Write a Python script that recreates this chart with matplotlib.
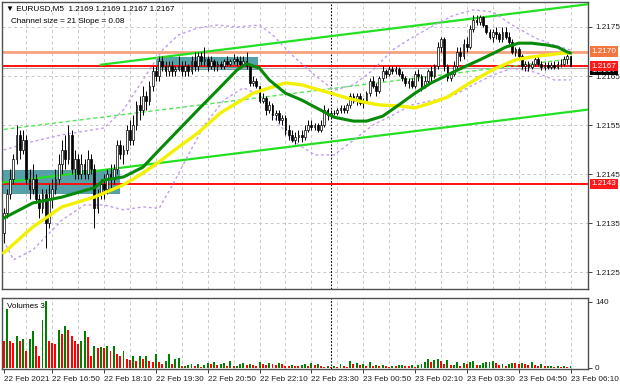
import matplotlib
matplotlib.use("Agg")
import matplotlib.pyplot as plt
import matplotlib.transforms as mtransforms
import numpy as np

# ---------------- data (prices in pips above 1.2100) ----------------
BASE = 1.2100
opens = [33,37,41,44,48,53,50,52,44,42,44,40,38,41,35,40,42,44,47,50,48,53,46,48,45,47,45,48,46,38,
         41,43,42,45,44,46,51,49,50,54,52,55,59,58,61,60,63,66,65,68,67,66,67,66,66.5,67,66,67,66,68,
         67,69,68,68.5,67,68,67,67.5,67,68,67.5,68,68.5,68,67.5,68,67,63.5,64,63,60,60.5,58,59,57,57.5,
         56,56.5,54,53,52,52.5,53,52.5,54,55,54.5,55,54,55,58,57,57.5,57.5,58,58.5,58,59,61,60,61,59.5,
         60,61.5,64,63,62,64.5,66,65.5,66.5,66,66.5,65.5,64.5,63.5,64,63,65.5,65,63,64,66,65,67,71,72.5,
         67,64.5,65.5,67,70,69,71.5,71,74.5,76.5,76,77,75.5,74,73,74,73.5,72.5,74,73,72,70,70.5,69,67,
         67.5,66.8,67.5,68.5,67.5,66.8,67.2,66.9,67.3,66.8,67.5,67.5,68.5,69]
highs = [38,42,46,49,55,54,54,53,46,47,45,41,42,42,43,44,46,49,52,53,55,54,50,49,49,48,50,49,47,42,
         44,45,46,47,47,52,52,51,55,56,57,60,61,63,62,64,67,67,69,69,68,68,68,67,69,68,68,67.5,69,70,
         70,70,71,69,69,68.5,68,68,68.5,69,68.5,69.5,69,69,69,70,67.5,65,64.5,63,61.5,61,60,59.5,58,58,
         57,57,55,54,53.5,54,54,55,56,56,55.5,55.5,56,59,58.5,58,58,58.5,59,59,59.5,61.5,61.5,61.5,61.5,60.5,
         62,64.5,65,63.5,65,67,66.5,67,67,67,66.8,66,65,64.5,64.5,66,66.5,65.5,65,66.5,67,67.5,72,73,
         73,67.5,66,68,71,71,72.5,73,75.5,77.5,77.5,77.5,77.3,75.5,74.5,74.5,75,74,75,75,74,72.5,71,71,69.5,
         68,68,68,69,69,68,67.8,67.8,67.8,68,68,68.5,69,69.5,69]
lows = [31,36,40,43,47,48,49,43,40,41,39,36,37,30,34,38,41,43,45,46,47,45,44,44,44,44,44,45,34,37,
        40,40,41,42,43,45,48,47,49,51,51,54,56,57,58,59,62,64,64,66,65,65,65,65,66,65,65,65,65.5,66,
        66,67,67,66,66.5,66,66,66.5,66.5,67,67,67.5,67,67,67,66.5,63,63,62.5,59.5,59.5,57,57.5,56,56,55.5,
        55,53,52,51.5,51.2,51.5,51.5,52,53.5,54,54,53.5,53.5,54.5,56,56.5,57,57,57.5,57.5,57.5,58.5,59.5,59,
        59,58.5,59.5,61,62.5,61,61.5,64,64.5,65,65.5,65.5,65,64,63,62.5,62.5,62.5,64,62,62.5,63.5,64,64.5,66.5,
        70,66,64,64,65,66.5,68,68.5,70,70.5,74,75.5,75.5,75,73.5,72.5,72,72.5,72,72,72.5,71.5,69.5,69,68.5,
        66.5,66,66,66.5,67,67,66.3,66.3,66.5,66.5,66.4,66.5,66.8,67,67.5,67]
closes = [37,41,44,48,53,50,52,44,42,44,40,38,41,35,40,42,44,47,50,48,53,46,48,45,47,45,48,46,38,41,
          43,42,45,44,46,51,49,50,54,52,55,59,58,61,60,63,66,65,68,67,66,67,66,66.5,67,66,67,66,68,67,
          69,68,68.5,67,68,67,67.5,67,68,67.5,68,68.5,68,67.5,68,67,63.5,64,63,60,60.5,58,59,57,57.5,56,
          56.5,54,53,52,52.5,53,52.5,54,55,54.5,55,54,55,58,57,57.5,57.5,58,58.5,58,59,61,60,61,59.5,60,
          61.5,64,63,62,64.5,66,65.5,66.5,66,66.5,65.5,64.5,63.5,64,63,65.5,65,63,64,66,65,67,71,72.5,67,
          64.5,65.5,67,70,69,71.5,71,74.5,76.5,76,77,75.5,74,73,74,73.5,72.5,74,73,72,70,70.5,69,67,67.5,
          66.8,67.5,68.5,67.5,66.8,67.2,66.9,67.3,66.8,67.5,67.5,68.5,69,67]
volumes = [57,124,57,53,67,57,60,35,60,78,46,25,102,141,57,53,50,79,71,88,79,67,57,50,57,78,64,25,46,42,
           44,42,46,35,46,28,25,35,18,16,25,14,25,18,25,14,11,28,11,7,14,28,7,18,21,3,
           3,5,7,4,8,2,6,9,7,11,5,8,10,4,13,
           3,4,7,9,5,8,6,4,12,8,6,10,7,5,9,
           7,4,3,6,4,3,5,7,4,9,6,8,3,2,4,
           2,3,2,8,4,2,14,7,9,5,8,4,12,3,6,
           4,5,3,2,4,3,5,6,4,3,5,2,6,7,12,
           18,12,17,19,14,8,17,5,6,12,4,9,7,11,13,
           6,6,10,11,12,14,9,6,7,3,7,10,9,8,10,
           7,5,11,5,4,8,3,4,4,2,3,2,3,2,3]

# moving averages (bar index, pips)
ma_green_idx = [0,9,18,28,31,37,43,48,54,60,67,72,75,79,82,87,92,96,102,108,112,117,122,127,132,137,142,147,152,155,159,163,168,171,174,175]
ma_green_val = [36.0,39.1,40.3,42.2,43.8,44.4,46.4,49.9,54.0,58.1,62.8,66.2,67.5,66.6,64.2,61.5,60.1,58.7,56.6,55.8,55.8,56.8,59.1,61.5,63.6,65.2,66.8,68.3,69.9,70.9,71.7,71.7,71.3,70.9,69.9,69.7]
ma_yellow_idx = [0,9,18,28,37,43,48,54,60,67,77,87,92,101,106,111,116,122,127,132,137,142,147,152,158,163,168,173,175]
ma_yellow_val = [28.9,34.2,38.3,40.3,42.8,45.2,47.5,50.5,53.4,57.5,61.5,63.6,63.2,61.5,60.5,59.7,59.1,58.9,58.5,59.5,60.7,62.8,64.8,66.6,68.3,68.9,69.3,69.7,69.7]

# bollinger bands (bar index, pips)
bb_up_idx = [0,8,18,31,37,43,49,54,60,66,72,79,83,89,96,102,108,114,120,126,133,139,145,151,157,164,170,175]
bb_up_val = [49.9,51.5,53.0,54.4,58.1,64.2,70.3,73.4,74.8,75.4,75.0,75.4,73.4,69.3,65.2,62.1,63.2,66.2,70.3,72.8,75.4,77.4,78.5,78.1,75.4,72.8,71.3,70.3]
bb_lo_idx = [0,3,9,18,25,31,37,43,48,53,57,62,68,74,79,83,89,96,102,108,114,120,126,133,139,145,151,157,164,170,175]
bb_lo_val = [31.5,27.5,29.5,35.6,38.7,38.7,37.7,38.3,38.0,43.8,48.9,55.0,60.1,62.6,61.1,57.0,51.9,48.9,48.9,51.9,55.0,57.0,59.1,60.1,61.1,63.2,65.2,66.6,65.8,64.2,64.2]

# regression channel (bar index, pips)
chan_mid_idx = [0, 175]
chan_mid_val = [54.1, 68.5]
chan_up_idx = [30, 181]
chan_up_val = [67.3, 79.7]
chan_lo_idx = [0, 181]
chan_lo_val = [43.3, 58.2]

# levels and zones
level_orange = 1.2170
level_red_hi = 1.2167
level_red_lo = 1.2143
level_bid = 1.21666
zones = [(0, 36.5, 40.9, 45.8), (47.5, 79, 66.2, 68.9)]  # (start idx, end idx, low pips, high pips)

time_labels = ["22 Feb 2021", "22 Feb 16:50", "22 Feb 18:10", "22 Feb 19:30", "22 Feb 20:50",
               "22 Feb 22:10", "22 Feb 23:30", "23 Feb 00:50", "23 Feb 02:10", "23 Feb 03:30",
               "23 Feb 04:50", "23 Feb 06:10"]
time_label_idx = [0, 15, 31, 47, 63, 79, 95, 111, 127, 143, 159, 175]
day_sep_idx = 101
price_ticks = [1.2125, 1.2135, 1.2145, 1.2155, 1.2165, 1.2175]

# ---------------- helpers ----------------
def P(v):
    return BASE + np.asarray(v, dtype=float) / 10000.0

O, H, L, C = P(opens), P(highs), P(lows), P(closes)
N = len(C)
idx = np.arange(N)

W, Hpx = 620, 388
fig = plt.figure(figsize=(W / 100, Hpx / 100), dpi=100)
fig.patch.set_facecolor("white")
FONT = ["Liberation Sans", "DejaVu Sans"]
FS = 5.9

ax = fig.add_axes([2 / W, 1 - 289 / Hpx, 586 / W, 287 / Hpx])
axv = fig.add_axes([2 / W, 1 - 369 / Hpx, 586 / W, 71 / Hpx])

XL = (-0.5, 180.4)
for a in (ax, axv):
    a.set_xlim(*XL)
    a.set_facecolor("white")
    for s in a.spines.values():
        s.set_color("#505050")
        s.set_linewidth(1.0)

ax.set_ylim(P(21.55), P(80.1))

# grid
grid_x = np.arange(7, 181, 8)
for a in (ax, axv):
    for gx in grid_x:
        a.axvline(gx, color="#c8c8c8", lw=0.7, ls=(0, (3, 3)), zorder=0)
for pt in price_ticks:
    ax.axhline(pt, color="#c8c8c8", lw=0.7, ls=(0, (3, 3)), zorder=0)
for a in (ax, axv):
    a.axvline(day_sep_idx, color="black", lw=0.8, ls=(0, (1.5, 1.5)), zorder=1)

# zones
for (x0, x1, lo, hi) in zones:
    ax.add_patch(plt.Rectangle((x0 - 0.5, P(lo)), x1 - x0, P(hi) - P(lo),
                               facecolor="#4d9ca3", edgecolor="none", alpha=0.95, zorder=1))

# levels
ax.axhline(level_bid, color="#b0b0b0", lw=0.8, zorder=2)
ax.axhline(level_orange, color="#f5a27e", lw=2.0, zorder=2)
ax.axhline(level_red_hi, color="#ff1010", lw=1.4, zorder=2)
ax.axhline(level_red_lo, color="#ff1010", lw=1.4, zorder=2)

# channel
ax.plot(chan_up_idx, P(chan_up_val), color="#22e022", lw=1.6, zorder=3)
ax.plot(chan_lo_idx, P(chan_lo_val), color="#22e022", lw=1.6, zorder=3)
ax.plot(chan_mid_idx, P(chan_mid_val), color="#55e855", lw=1.0, ls=(0, (3, 2)), zorder=3)

# bollinger
ax.plot(bb_up_idx, P(bb_up_val), color="#c39ceb", lw=1.0, ls=(0, (2, 2)), zorder=3)
ax.plot(bb_lo_idx, P(bb_lo_val), color="#c39ceb", lw=1.0, ls=(0, (2, 2)), zorder=3)

# candles
up = C >= O
ax.vlines(idx, L, H, color="black", lw=0.7, zorder=4)
bw = 0.55
body_lo = np.minimum(O, C)
body_h = np.maximum(np.abs(C - O), 0.000004)
ax.bar(idx[up], body_h[up], bottom=body_lo[up], width=bw, facecolor="white",
       edgecolor="black", linewidth=0.5, zorder=5)
ax.bar(idx[~up], body_h[~up], bottom=body_lo[~up], width=bw, facecolor="black",
       edgecolor="black", linewidth=0.5, zorder=5)

# moving averages
ax.plot(ma_yellow_idx, P(ma_yellow_val), color="#f2f200", lw=2.4, zorder=6, solid_capstyle="round")
ax.plot(ma_green_idx, P(ma_green_val), color="#078a07", lw=2.2, zorder=6, solid_capstyle="round")

# price axis
ax.yaxis.tick_right()
ax.set_yticks(price_ticks)
ax.set_yticklabels([f"{t:.4f}" for t in price_ticks], fontsize=FS, family=FONT)
ax.tick_params(axis="y", length=3, width=0.6, pad=2, colors="#202020")
ax.set_xticks([])

trans = mtransforms.blended_transform_factory(ax.transAxes, ax.transData)
def tag(price, text, fc, z):
    ax.text(1.006, price, text, transform=trans, fontsize=FS, family=FONT, color="white",
            va="center", ha="left", zorder=z, clip_on=False,
            bbox=dict(boxstyle="square,pad=0.2", facecolor=fc, edgecolor="none"))
tag(level_bid - 0.00004, "1.2167", "black", 7)
tag(level_orange, "1.2170", "#f37640", 8)
tag(level_red_hi, "1.2167", "#ff1a1a", 8)
tag(level_red_lo, "1.2143", "#ff1a1a", 8)

# title
ax.text(0.006, 0.988, "\u25bc EURUSD,M5  1.2169 1.2169 1.2167 1.2167", transform=ax.transAxes,
        fontsize=FS, family=FONT, va="top", ha="left", zorder=9)
ax.text(0.016, 0.945, "Channel size = 21 Slope = 0.08", transform=ax.transAxes,
        fontsize=FS, family=FONT, va="top", ha="left", zorder=9)

# volumes
vol = np.asarray(volumes, dtype=float)
vcol = ["#008000" if (i == 0 or vol[i] >= vol[i - 1]) else "#ff0000" for i in range(N)]
vcol[0] = "#ff0000"
axv.bar(idx, vol, width=0.6, color=vcol, zorder=3)
axv.set_ylim(-3, 148)
axv.yaxis.tick_right()
axv.set_yticks([0, 140])
axv.set_yticklabels(["0", "140"], fontsize=FS, family=FONT)
axv.tick_params(axis="y", length=3, width=0.6, pad=2, colors="#202020")
axv.text(0.008, 0.93, "Volumes 3", transform=axv.transAxes, fontsize=FS, family=FONT,
         va="top", ha="left", zorder=9)
axv.set_xticks(time_label_idx)
axv.set_xticklabels(time_labels, fontsize=FS, family=FONT, ha="left")
axv.tick_params(axis="x", length=3, width=0.6, pad=2, colors="#202020")

fig.savefig("out.png", dpi=100, facecolor="white")
